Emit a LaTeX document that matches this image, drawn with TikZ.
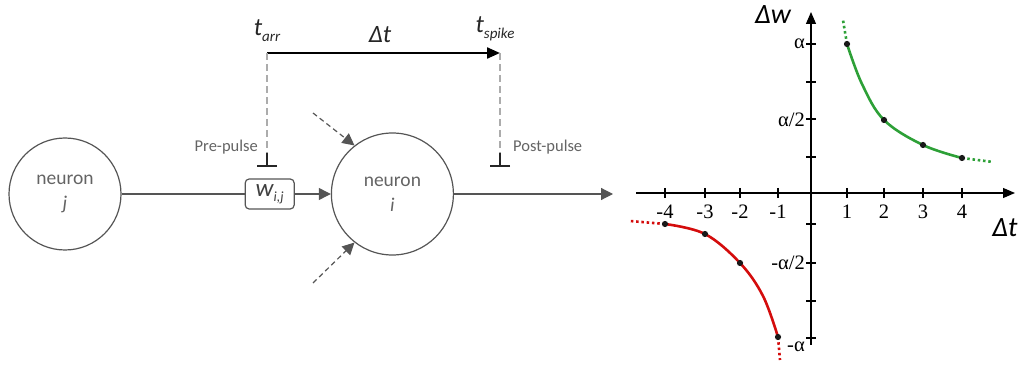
\documentclass[tikz,border=0pt]{standalone}
\usepackage{fontspec}
\setmainfont{Carlito}
\newfontfamily\tickfont{Liberation Serif}
\usetikzlibrary{arrows.meta, positioning, calc}
\definecolor{linegray}{RGB}{85,85,85}
\definecolor{guidegray}{RGB}{172,172,172}
\definecolor{textgray}{RGB}{100,100,100}
\definecolor{curvegreen}{RGB}{45,160,55}
\definecolor{curvered}{RGB}{212,12,12}

\begin{document}
\begin{tikzpicture}[
  x=1pt, y=-1pt,
  neunode/.style  = {circle, draw=linegray, line width=1.2pt, inner sep=0pt, align=center,
                  font=\fontsize{19.5}{25}\selectfont, text=textgray},
  wnode/.style    = {rectangle, rounded corners=4pt, draw=linegray, line width=1.2pt,
                  minimum width=49pt, minimum height=30pt, inner sep=0pt,
                  font=\fontsize{25}{25}\selectfont\itshape, text=black!75},
  timelab/.style  = {inner sep=0pt, font=\fontsize{25}{25}\selectfont\itshape, text=black!85},
  pulselab/.style = {inner sep=0pt, font=\fontsize{16.5}{16.5}\selectfont, text=textgray},
  wire/.style     = {draw=linegray, line width=1.2pt},
  arr/.style      = {wire, -{Triangle[length=12pt, width=12pt]}},
  dasharr/.style  = {arr, dash pattern=on 5pt off 3.5pt},
  timearr/.style  = {draw=black, line width=2.2pt, -{Triangle[length=13pt, width=11pt]}},
  guide/.style    = {draw=guidegray, line width=1.3pt, dash pattern=on 7pt off 4pt},
  teestub/.style  = {draw=black!85, line width=1.4pt, -{Bar[width=20pt, line width=2.2pt]}},
  axis/.style     = {draw=black, line width=1.2pt},
  ticklab/.style  = {inner sep=0pt, font=\tickfont\fontsize{20.5}{20.5}\selectfont},
  axlab/.style    = {inner sep=0pt, font=\fontsize{28}{28}\selectfont\itshape},
  curve/.style    = {line width=2.6pt},
  ext/.style      = {line width=2.6pt, dash pattern=on 2.5pt off 2.8pt},
  dot/.style      = {fill=black!90},
]
\useasboundingbox (0,0) rectangle (1021,366);

%% Neurons and synapse
\node[neunode, minimum size=112pt] (nj) at (65,194) {neuron\\\textit{j}};
\node[wnode, right=123pt of nj] (wij) {w\raisebox{-5pt}{\fontsize{14}{14}\selectfont i,j}};
\node[neunode, minimum size=122pt, right=36pt of wij] (ni) {neuron\\\textit{i}};
\coordinate (out) at (613,194);
\coordinate (in1) at (313,113);
\coordinate (in2) at (313,283);

\draw[wire] (nj) -- (wij);
\draw[arr] (wij) -- (ni);
\draw[arr] (ni) -- (out);
\draw[dasharr] (in1) -- (ni.128);
\draw[dasharr] (in2) -- (ni.232);

%% Timing
\coordinate (tstart) at (267,53);
\coordinate (tend)   at (500,53);
\coordinate (prestub)  at (267,153);
\coordinate (pretee)   at (267,167);
\coordinate (poststub) at (500,153);
\coordinate (posttee)  at (500,167);

\node[timelab] (tarr)   at (267,31) {t\raisebox{-6pt}{\fontsize{15}{15}\selectfont arr}};
\node[timelab] (tspike) at (495,29) {t\raisebox{-6pt}{\fontsize{15}{15}\selectfont spike}};
\node[timelab] (dt)     at (380,35) {Δt};

\draw[timearr] (tstart) -- (tend);
\draw[guide] (tstart) -- (prestub);
\draw[guide] (tend) -- (poststub);
\draw[teestub] (prestub) -- (pretee);
\draw[teestub] (poststub) -- (posttee);

\node[pulselab, anchor=east] (pre)  at (258,147) {Pre-pulse};
\node[pulselab, anchor=west] (post) at (513,147) {Post-pulse};

%% Plot
\draw[axis, -{Triangle[length=12pt, width=10pt]}] (636,193) -- (1015,193);
\draw[axis, -{Triangle[length=12pt, width=10pt]}] (811,345) -- (811,12);
\node[axlab] (dwlab) at (773,15) {Δw};
\node[axlab] (dtlab) at (1005,228) {Δt};

\foreach \tx/\tl in {665/-4, 705/-3, 740/-2, 778/-1, 847/1, 884/2, 923/3, 962/4} {
  \draw[axis] (\tx,188) -- (\tx,198);
  \node[ticklab] at (\tx,212) {\tl};
}
\foreach \ty in {44, 82, 119, 157, 224, 263, 301, 338} {
  \draw[axis] (806,\ty) -- (816,\ty);
}
\node[ticklab, anchor=east] (alab)  at (805,44)  {α};
\node[ticklab, anchor=east] (ahlab) at (805,120) {α/2};
\node[ticklab, anchor=east] (mhlab) at (805,263) {-α/2};
\node[ticklab, anchor=east] (malab) at (805,347) {-α};

% potentiation
\draw[curve, curvegreen] plot[smooth, tension=0.6] coordinates {(847,44) (862,84) (884,120) (923,145) (962,158)};
\draw[ext, curvegreen] (847,44) -- (843,20);
\draw[ext, curvegreen] (962,158) -- (993,162);
% depression
\draw[curve, curvered] plot[smooth, tension=0.6] coordinates {(665,224) (705,234) (740,263) (763,296) (778,337)};
\draw[ext, curvered] (665,224) -- (630,221);
\draw[ext, curvered] (778,337) -- (780,360);

\foreach \px/\py in {847/44, 884/120, 923/145, 962/158, 665/224, 705/234, 740/263, 778/337} {
  \fill[dot] (\px,\py) circle (3.1pt);
}

\end{tikzpicture}
\end{document}
